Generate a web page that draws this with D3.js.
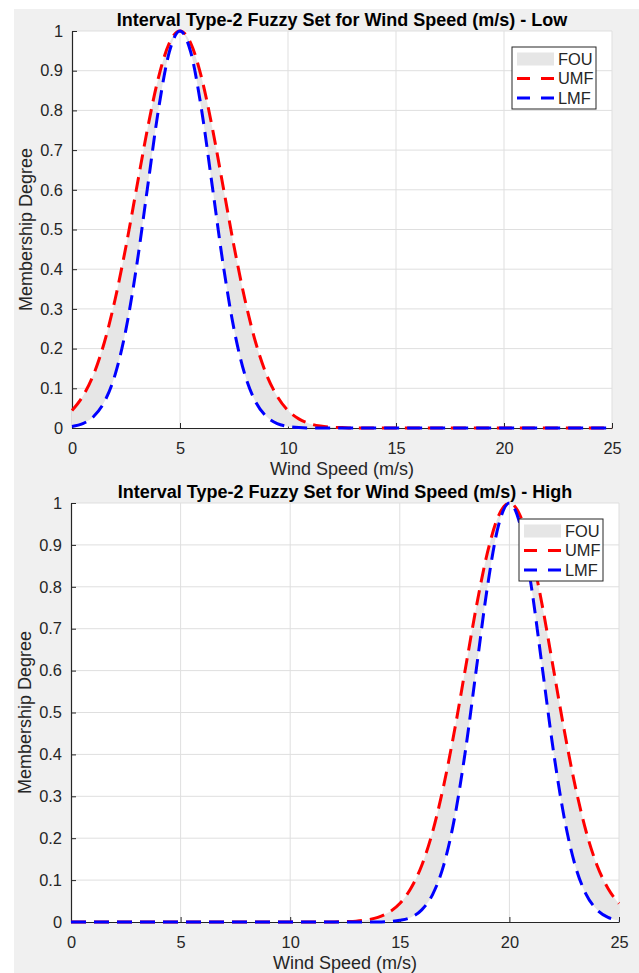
<!DOCTYPE html>
<html>
<head>
<meta charset="utf-8">
<script src="https://cdn.jsdelivr.net/npm/d3@7"></script>
<style>
  body { margin: 0; background: #ffffff; }
  svg { display: block; font-family: "Liberation Sans", Arial, Helvetica, sans-serif; }
</style>
</head>
<body>
<svg id="chart" width="639" height="973"></svg>
<script>
const windSpeed = [
  0, 0.5, 1, 1.5, 2, 2.5, 3, 3.5, 4, 4.5,
  5, 5.5, 6, 6.5, 7, 7.5, 8, 8.5, 9, 9.5,
  10, 10.5, 11, 11.5, 12, 12.5, 13, 13.5, 14, 14.5,
  15, 15.5, 16, 16.5, 17, 17.5, 18, 18.5, 19, 19.5,
  20, 20.5, 21, 21.5, 22, 22.5, 23, 23.5, 24, 24.5,
  25,
];

const lowUMF = [
  0.044, 0.080, 0.135, 0.216, 0.325, 0.458, 0.607, 0.755, 0.882, 0.969,
  1, 0.969, 0.882, 0.755, 0.607, 0.458, 0.325, 0.216, 0.135, 0.080,
  0.044, 0.023, 0.011, 0.005, 0.002, 0.001, 0, 0, 0, 0,
  0, 0, 0, 0, 0, 0, 0, 0, 0, 0,
  0, 0, 0, 0, 0, 0, 0, 0, 0, 0,
  0,
];

const lowLMF = [
  0.004, 0.011, 0.029, 0.066, 0.135, 0.249, 0.411, 0.607, 0.801, 0.946,
  1, 0.946, 0.801, 0.607, 0.411, 0.249, 0.135, 0.066, 0.029, 0.011,
  0.004, 0.001, 0, 0, 0, 0, 0, 0, 0, 0,
  0, 0, 0, 0, 0, 0, 0, 0, 0, 0,
  0, 0, 0, 0, 0, 0, 0, 0, 0, 0,
  0,
];

const highUMF = [
  0, 0, 0, 0, 0, 0, 0, 0, 0, 0,
  0, 0, 0, 0, 0, 0, 0, 0, 0, 0,
  0, 0, 0, 0, 0, 0.001, 0.002, 0.005, 0.011, 0.023,
  0.044, 0.080, 0.135, 0.216, 0.325, 0.458, 0.607, 0.755, 0.882, 0.969,
  1, 0.969, 0.882, 0.755, 0.607, 0.458, 0.325, 0.216, 0.135, 0.080,
  0.044,
];

const highLMF = [
  0, 0, 0, 0, 0, 0, 0, 0, 0, 0,
  0, 0, 0, 0, 0, 0, 0, 0, 0, 0,
  0, 0, 0, 0, 0, 0, 0, 0, 0, 0.001,
  0.004, 0.011, 0.029, 0.066, 0.135, 0.249, 0.411, 0.607, 0.801, 0.946,
  1, 0.946, 0.801, 0.607, 0.411, 0.249, 0.135, 0.066, 0.029, 0.011,
  0.004,
];

const xTicks = [0, 5, 10, 15, 20, 25];
const yTicks = [0, 0.1, 0.2, 0.3, 0.4, 0.5, 0.6, 0.7, 0.8, 0.9, 1];
const legendLabels = ['FOU', 'UMF', 'LMF'];
const panelTitles = [
  'Interval Type-2 Fuzzy Set for Wind Speed (m/s) - Low',
  'Interval Type-2 Fuzzy Set for Wind Speed (m/s) - High',
];

const svg = d3.select('#chart');
const axisColor = '#262626';
const gridColor = '#dfdfdf';
const fouColor = '#e6e6e6';

// figure background
svg
  .append('rect')
    .attr('x', 14)
    .attr('y', 9)
    .attr('width', 625)
    .attr('height', 964)
    .attr('fill', '#f0f0f0');

const drawPanel = (box, title, upper, lower) => {
  const x = d3.scaleLinear().domain([0, 25]).range([box.left, box.right]);
  const y = d3.scaleLinear().domain([0, 1]).range([box.bottom, box.top]);
  const fmt = d3.format('~g');

  const g = svg.append('g').attr('class', 'panel');

  g.append('rect')
    .attr('x', box.left)
    .attr('y', box.top)
    .attr('width', box.right - box.left)
    .attr('height', box.bottom - box.top)
    .attr('fill', '#ffffff');

  // grid
  g.append('g')
    .selectAll('line')
    .data(xTicks.filter(d => d > 0))
    .join('line')
      .attr('x1', d => x(d))
      .attr('x2', d => x(d))
      .attr('y1', box.top)
      .attr('y2', box.bottom)
      .attr('stroke', gridColor)
      .attr('stroke-width', 1);

  g.append('g')
    .selectAll('line')
    .data(yTicks.filter(d => d > 0))
    .join('line')
      .attr('x1', box.left)
      .attr('x2', box.right)
      .attr('y1', d => y(d))
      .attr('y2', d => y(d))
      .attr('stroke', gridColor)
      .attr('stroke-width', 1);

  // axes sit under the data, as in the original
  const xAxis = g.append('g')
    .attr('transform', `translate(0, ${box.bottom})`)
    .call(d3.axisBottom(x).tickValues(xTicks).tickFormat(fmt).tickSizeInner(-5).tickSizeOuter(0).tickPadding(14));
  const yAxis = g.append('g')
    .attr('transform', `translate(${box.left}, 0)`)
    .call(d3.axisLeft(y).tickValues(yTicks).tickFormat(fmt).tickSizeInner(-5).tickSizeOuter(0).tickPadding(9));

  [xAxis, yAxis].forEach(a => {
    a.select('.domain').attr('stroke', axisColor).attr('stroke-width', 1.2);
    a.selectAll('.tick line').attr('stroke', axisColor);
    a.selectAll('.tick text')
      .attr('fill', axisColor)
      .attr('font-size', 16.4)
      .attr('font-family', null);
  });
  xAxis.selectAll('.tick text').attr('dy', '0.71em');

  const rows = windSpeed.map((w, i) => ({ w, up: upper[i], lo: lower[i] }));

  const area = d3.area()
    .x(d => x(d.w))
    .y0(d => y(d.lo))
    .y1(d => y(d.up))
    .curve(d3.curveMonotoneX);

  g.append('path')
    .datum(rows)
    .attr('d', area)
    .attr('fill', fouColor);

  const line = key => d3.line()
    .x(d => x(d.w))
    .y(d => y(d[key]))
    .curve(d3.curveMonotoneX);

  g.append('path')
    .datum(rows)
    .attr('d', line('up'))
    .attr('fill', 'none')
    .attr('stroke', '#ff0000')
    .attr('stroke-width', 3)
    .attr('stroke-dasharray', '15,8');

  g.append('path')
    .datum(rows)
    .attr('d', line('lo'))
    .attr('fill', 'none')
    .attr('stroke', '#0000ff')
    .attr('stroke-width', 3)
    .attr('stroke-dasharray', '15,8');

  // labels
  g.append('text')
    .attr('x', (box.left + box.right) / 2)
    .attr('y', box.top - 5)
    .attr('text-anchor', 'middle')
    .attr('font-size', 18)
    .attr('font-weight', 'bold')
    .attr('fill', '#000000')
    .text(title);

  g.append('text')
    .attr('x', (box.left + box.right) / 2)
    .attr('y', box.bottom + 47)
    .attr('text-anchor', 'middle')
    .attr('font-size', 18)
    .attr('fill', axisColor)
    .text('Wind Speed (m/s)');

  g.append('text')
    .attr('transform', `translate(${box.left - 40}, ${(box.top + box.bottom) / 2}) rotate(-90)`)
    .attr('text-anchor', 'middle')
    .attr('font-size', 18)
    .attr('fill', axisColor)
    .text('Membership Degree');

  // legend
  const lw = 84;
  const lh = 62;
  const legend = g.append('g')
    .attr('transform', `translate(${box.right - 16 - lw}, ${box.top + 16})`);

  legend.append('rect')
    .attr('width', lw)
    .attr('height', lh)
    .attr('fill', '#ffffff')
    .attr('stroke', axisColor)
    .attr('stroke-width', 1);

  const rowY = [12, 31.5, 51];
  legend.append('rect')
    .attr('x', 5)
    .attr('y', rowY[0] - 6.5)
    .attr('width', 37)
    .attr('height', 13)
    .attr('fill', fouColor);

  ['#ff0000', '#0000ff'].forEach((c, i) => {
    legend.append('line')
      .attr('x1', 5)
      .attr('x2', 42)
      .attr('y1', rowY[i + 1])
      .attr('y2', rowY[i + 1])
      .attr('stroke', c)
      .attr('stroke-width', 3)
      .attr('stroke-dasharray', '13,11');
  });

  legend.selectAll('text.lbl')
    .data(legendLabels)
    .join('text')
      .attr('class', 'lbl')
      .attr('x', 46)
      .attr('y', (d, i) => rowY[i])
      .attr('dy', '0.36em')
      .attr('font-size', 16.4)
      .attr('fill', axisColor)
      .text(d => d);
};

drawPanel({ left: 72, right: 612, top: 31, bottom: 428 }, panelTitles[0], lowUMF, lowLMF);
drawPanel({ left: 71, right: 619, top: 503, bottom: 922 }, panelTitles[1], highUMF, highLMF);
</script>
</body>
</html>
